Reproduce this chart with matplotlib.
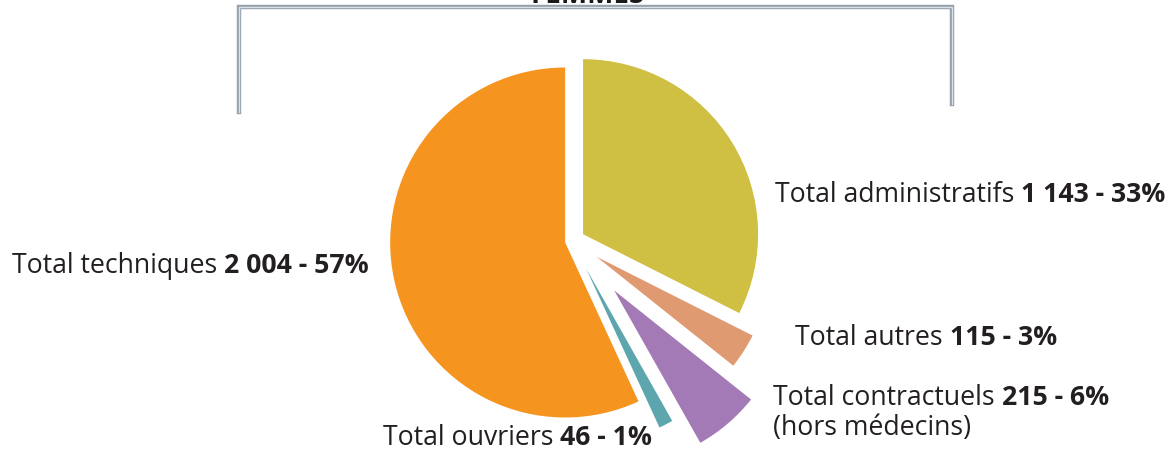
import matplotlib.pyplot as plt

# effectifs par categorie (sens horaire depuis midi)
categories = ['administratifs', 'autres', 'contractuels', 'ouvriers', 'techniques']
effectifs = [1143, 115, 215, 46, 2004]
valeurs_txt = ['1 143 - 33%', '115 - 3%', '215 - 6%', '46 - 1%', '2 004 - 57%']
couleurs = ['#cfbf42', '#e09a72', '#a47ab6', '#5ea6ae', '#f5941f']

W, H = 1176, 450
fig = plt.figure(figsize=(W / 100, H / 100), dpi=100)
ax = fig.add_axes([0, 0, 1, 1])

# decalage des parts en pixels
eclat = [13, 29, 65, 31, 7]
ax.pie(effectifs, colors=couleurs, startangle=90, counterclock=False,
       radius=175, center=(572, H - 241), explode=eclat,
       wedgeprops=dict(linewidth=0))

ax.set_xlim(0, W)
ax.set_ylim(0, H)
ax.axis('off')

police = 'Open Sans'
coul_txt = '#231f20'
fs = 19.2


def etiquette(x, y, debut, gras):
    t = ax.text(x, H - y, debut, fontsize=fs, family=police, color=coul_txt,
                ha='left', va='baseline')
    # x : fin du texte normal, y : meme ligne de base
    ax.annotate(gras, xy=(1, H - y), xycoords=(t, 'data'), xytext=(5, 0),
                textcoords='offset points', fontsize=fs, family=police,
                fontweight='bold', color=coul_txt, ha='left', va='baseline')
    return t


etiquette(775, 202, 'Total administratifs', valeurs_txt[0])
etiquette(12, 273, 'Total techniques', valeurs_txt[4])
etiquette(795, 345, 'Total autres', valeurs_txt[1])
etiquette(773, 405, 'Total contractuels', valeurs_txt[2])
ax.text(773, H - 435, '(hors médecins)', fontsize=fs, family=police,
        color=coul_txt, ha='left', va='baseline')
etiquette(383, 445, 'Total ouvriers', valeurs_txt[3])

# cadre du haut (double trait gris)
for lw, c in [(3.2, '#96a2ae'), (0.9, '#dde2e7')]:
    ax.plot([239, 239, 952, 952], [H - 112, H - 7, H - 7, H - 104],
            color=c, lw=lw, solid_joinstyle='miter', clip_on=False)

# titre coupe en haut de l'image (seul le bas des lettres est visible)
ax.text(588, H - 3, 'FEMMES', fontsize=20, family=police, fontweight='bold',
        color='#1a1a1a', ha='center', va='baseline')

fig.savefig('out.png', dpi=100)
